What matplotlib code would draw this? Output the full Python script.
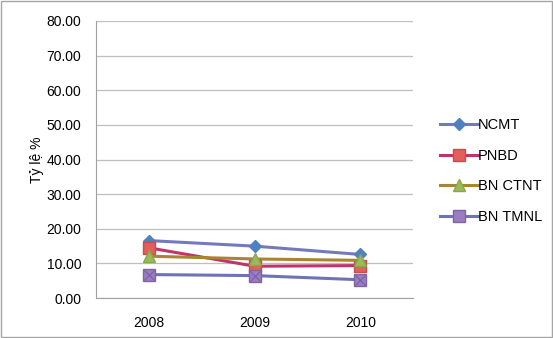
import matplotlib
matplotlib.use("Agg")
import matplotlib.pyplot as plt
from matplotlib.patches import Rectangle
from matplotlib.lines import Line2D

years = ["2008", "2009", "2010"]
ncmt = [16.6, 15.0, 12.6]
pnbd = [14.5, 9.2, 9.4]
bn_ctnt = [12.1, 11.3, 10.9]
bn_tmnl = [6.8, 6.5, 5.3]

plt.rcParams["font.family"] = ["Liberation Sans", "DejaVu Sans"]

fig = plt.figure(figsize=(5.53, 3.38), dpi=100)
ax = fig.add_axes([0.1745, 0.118, 0.5725, 0.82])

x = range(len(years))
ax.plot(x, ncmt, color="#7479BE", lw=2.2, marker="D", ms=6,
        mfc="#4F81BD", mec="#4F81BD", label="NCMT")
ax.plot(x, pnbd, color="#C0346C", lw=2.2, marker="s", ms=8,
        mfc="#E0605A", mec="#C0504D", label="PNBD")
ax.plot(x, bn_ctnt, color="#A88532", lw=2.2, marker="^", ms=8,
        mfc="#9BBB59", mec="#8AA84A", label="BN CTNT")
ax.plot(x, bn_tmnl, color="#6E72B6", lw=2.2, label="BN TMNL")
# square markers with a cross for BN TMNL
ax.plot(x, bn_tmnl, ls="none", marker="s", ms=9, mfc="#9A7DC0", mec="#8064A2")
ax.plot(x, bn_tmnl, ls="none", marker="x", ms=7, mec="#7A60A0", mew=0.8)

ax.set_xlim(-0.5, 2.5)
ax.set_ylim(0, 80)
ax.set_yticks(range(0, 81, 10))
ax.set_yticklabels([f"{v:.2f}" for v in range(0, 81, 10)])
ax.set_xticks(list(x))
ax.set_xticklabels(years)
ax.tick_params(axis="x", labelsize=10, length=0, pad=13, colors="black")
ax.tick_params(axis="y", labelsize=10, length=0, pad=11, colors="black")
ax.set_ylabel("Tỷ lệ %", fontsize=10, labelpad=2)
ax.grid(axis="y", color="#BFBFBF", lw=0.9)
ax.set_axisbelow(True)
for s in ["top", "right"]:
    ax.spines[s].set_visible(False)
for s in ["left", "bottom"]:
    ax.spines[s].set_color("#A0A0A0")

handles = [
    Line2D([], [], color="#7479BE", lw=2.2, marker="D", ms=6, mfc="#4F81BD", mec="#4F81BD"),
    Line2D([], [], color="#C0346C", lw=2.2, marker="s", ms=8, mfc="#E0605A", mec="#C0504D"),
    Line2D([], [], color="#A88532", lw=2.2, marker="^", ms=8, mfc="#9BBB59", mec="#8AA84A"),
    Line2D([], [], color="#6E72B6", lw=2.2, marker="s", ms=8, mfc="#9A7DC0", mec="#8064A2"),
]
fig.legend(handles, ["NCMT", "PNBD", "BN CTNT", "BN TMNL"], loc="center left",
           bbox_to_anchor=(0.772, 0.494), frameon=False, fontsize=10.5,
           handlelength=2.6, handletextpad=0.0, labelspacing=1.15)

fig.patches.append(Rectangle((0.002, 0.004), 0.996, 0.992, transform=fig.transFigure,
                             fill=False, ec="#A6A6A6", lw=1.0))
fig.savefig("out.png", dpi=100)
